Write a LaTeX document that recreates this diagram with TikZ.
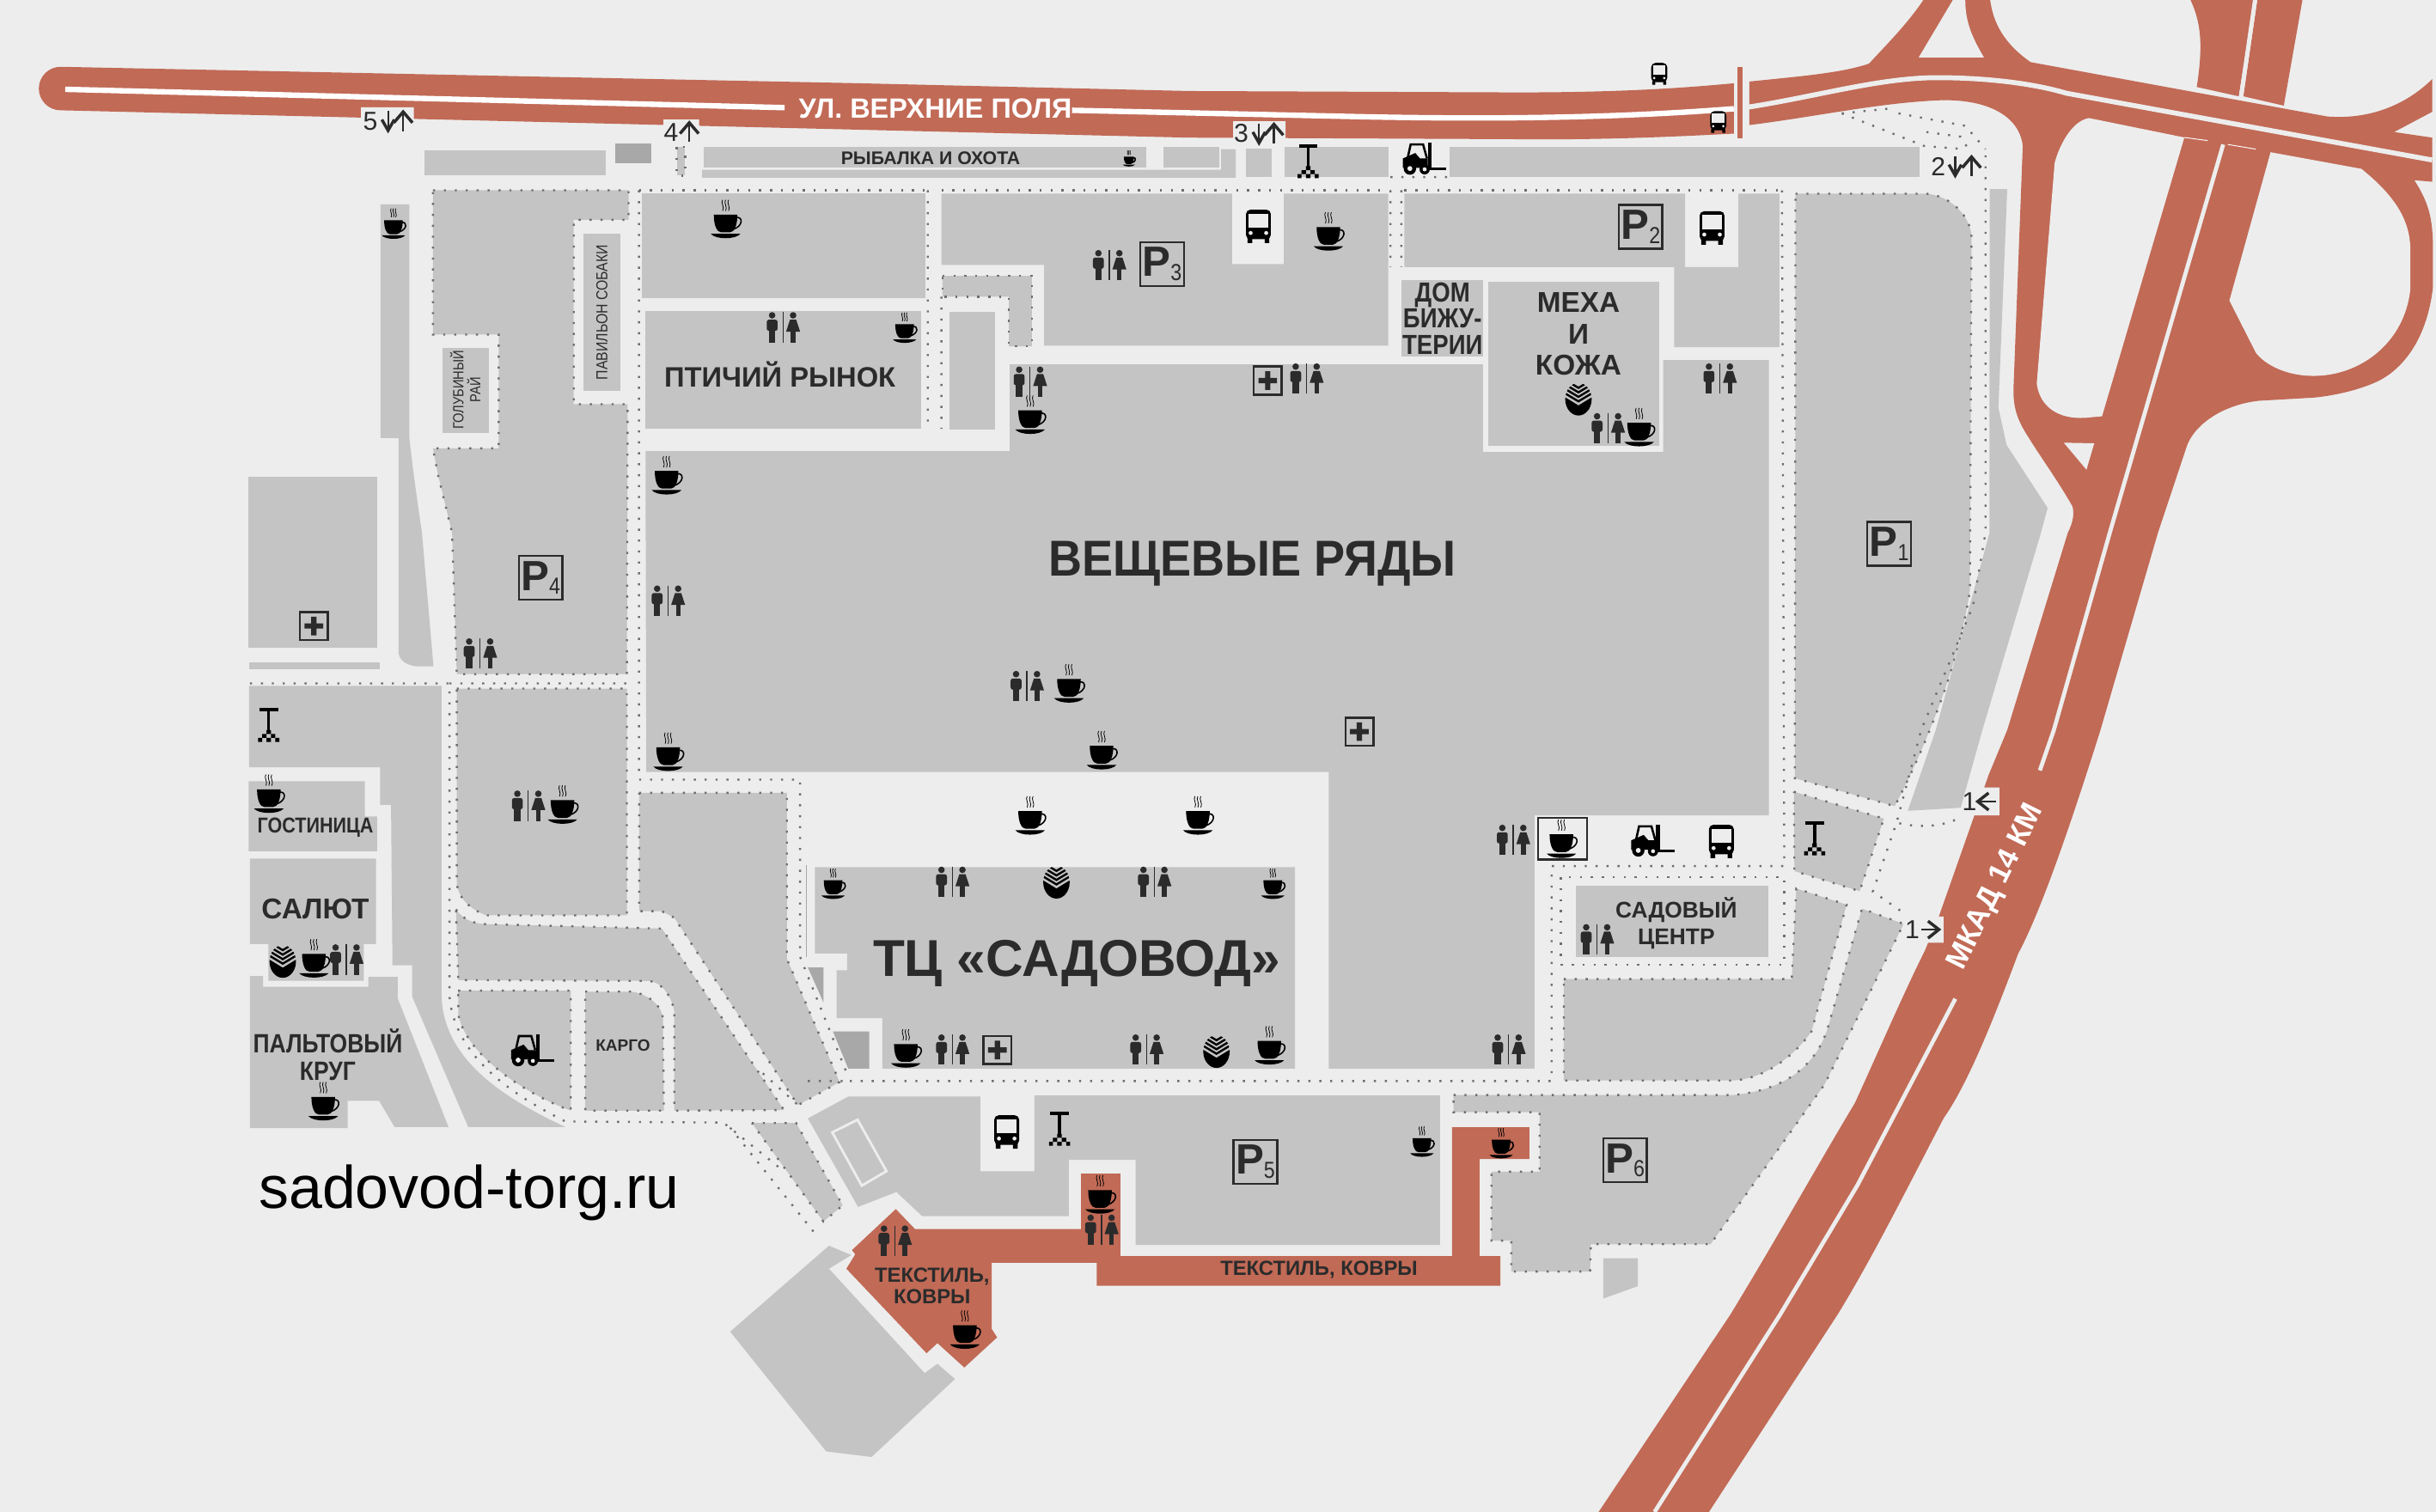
\documentclass[tikz,border=0pt]{standalone}
\usepackage{fontspec}
\setmainfont{Liberation Sans}
\newfontfamily\narrowf{Liberation Sans}[FakeStretch=0.86]
\newfontfamily\medf{Liberation Sans}[FakeStretch=0.92]
\usetikzlibrary{positioning}
\definecolor{paper}{HTML}{EDEDED}
\definecolor{blockgrey}{HTML}{C4C4C4}
\definecolor{darkgrey}{HTML}{A8A8A8}
\definecolor{roadred}{HTML}{C16A56}
\definecolor{ink}{HTML}{2B2B2B}
\definecolor{dotgrey}{HTML}{6E6E6E}
\newcommand{\fsz}[2]{\fontsize{#1}{#2}\selectfont}
\newcommand{\pmark}[1]{{\fsz{15.5}{15.5}\bfseries P}{\fsz{8.5}{8.5}\narrowf\raisebox{-1.5pt}{#1}}}
\tikzset{
  blk/.style={fill=blockgrey},
  dotline/.style={draw=dotgrey,line width=0.75pt,dash pattern=on 0.75pt off 3.25pt},
  dblk/.style={fill=blockgrey,dotline},
  road/.style={fill=roadred},
  hole/.style={fill=paper},
  lbl/.style={text=ink,inner sep=0pt,align=center},
  pbox/.style={draw=ink,line width=0.8pt,minimum size=16pt,inner sep=0pt,text=ink},
  num/.style={text=ink,inner sep=0pt,font=\fsz{9.5}{10}},
  arw/.style={draw=ink,line width=0.7pt},
  barb/.style={draw=ink,line width=1.1pt},
  cup/.pic={
    \fill[black] (-9,-3) -- (7,-3) .. controls (7,4) and (5,9) .. (2,9) -- (-4,9) .. controls (-7,9) and (-9,4) .. (-9,-3) -- cycle;
    \draw[black,line width=0.5pt] (6,-1) .. controls (11,-2) and (11,5) .. (4,7);
    \fill[black] (-11,10) .. controls (-8,14) and (6,14) .. (9,10) -- cycle;
    \foreach \s in {-3,-1,1} \draw[black,line width=0.25pt] (\s,-13) .. controls (\s-1.6,-11) and (\s+1.6,-8) .. (\s,-5.5);
  },
  wcpair/.pic={
    \fill[ink] (-7,-8) circle (2.1);
    \fill[ink,rounded corners=0.8pt] (-10.5,-5.2) rectangle (-3.5,2);
    \fill[ink] (-9,1) rectangle (-5,9.5);
    \draw[ink,line width=0.45pt] (0,-10) -- (0,9.5);
    \fill[ink] (6.5,-8) circle (2.1);
    \fill[ink] (4.5,-5.2) -- (8.5,-5.2) -- (11,2.5) -- (2,2.5) -- cycle;
    \fill[ink] (5,2) rectangle (8,9.5);
  },
  busicon/.pic={
    \fill[black,rounded corners=1.6pt] (-8,-10) rectangle (8,9);
    \fill[paper] (-6.2,-7.5) rectangle (6.2,1.5);
    \fill[paper] (-5,5) circle (1.3) (5,5) circle (1.3);
    \fill[black] (-7,8) rectangle (-4,11.5) (4,8) rectangle (7,11.5);
  },
  taxi/.pic={
    \fill[black] (-7,-13) rectangle (7,-10.5);
    \fill[black] (-1.1,-10.5) rectangle (1.1,4);
    \fill[black] (-1.7,3.5) rectangle (1.7,6.5) (-5,6.5) rectangle (-1.7,9.5) (1.7,6.5) rectangle (5,9.5);
    \fill[black] (-8,9.5) rectangle (-5,12.5) (-1.7,9.5) rectangle (1.7,12.5) (5,9.5) rectangle (8,12.5);
  },
  forklift/.pic={
    \draw[black,line width=0.8pt] (-11,0) -- (-9,-9) -- (-1,-9) -- (1.5,0);
    \fill[black] (-14,0) -- (-6,-3.5) -- (-3,0) -- (2,0) -- (2,6) -- (-14,6) -- cycle;
    \fill[black] (2,-10) rectangle (4.5,7.5);
    \fill[black] (4.5,6) rectangle (14,7.5);
    \fill[black] (-9.5,6.5) circle (4) (0,7) circle (3.3);
    \fill[paper] (-9.5,6.5) circle (1.6) (0,7) circle (1.3);
  },
  sber/.pic={
    \begin{scope}
      \clip (0,0) ellipse (8.5 and 10.5);
      \fill[black] (-9,-1.5) -- (0,4) -- (9,-1.5) -- (9,11) -- (-9,11) -- cycle;
      \foreach \s in {1.4,-1.5,-4.4,-7.3} \draw[black,line width=0.75pt] (-10,\s-6) -- (0,\s) -- (10,\s-6);
    \end{scope}
  },
  plusbox/.pic={
    \draw[ink,line width=0.8pt] (-9,-9) rectangle (9,9);
    \fill[ink] (-1.7,-6) rectangle (1.7,6) (-6,-1.7) rectangle (6,1.7);
  },
  arrdown/.pic={
    \draw[arw] (0,-6.5) -- (0,6);
    \draw[barb] (-4,-1) -- (0,6) -- (4,-1);
  },
  arrup/.pic={
    \draw[arw] (0,6.5) -- (0,-6);
    \draw[barb] (-6,1) -- (0,-6) -- (6,1);
  }
}
\begin{document}
\begin{tikzpicture}[x=0.02cm,y=-0.02cm]
\useasboundingbox (0,0) rectangle (1568,973.4);
\fill[paper] (0,0) rectangle (1568,973.4);

\fill[road] (39,43) -- (553,53.6) -- (765,58.6) -- (976,59.5) .. controls (1040,59.5) and (1080,57) .. (1116,53.6) -- (1116,86) .. controls (1060,89) and (1020,90) .. (976,89.6) -- (765,88.6) -- (553,83.5) -- (39,71) arc (90:270:14) -- cycle;
\fill[road] (1126,52.5) .. controls (1160,49) and (1185,47) .. (1203,41) .. controls (1215,28) and (1228,15) .. (1238,0) -- (1281,0) .. controls (1283,15) and (1290,28) .. (1307,40) -- (1498,75) .. controls (1525,77) and (1548,68) .. (1565.5,51) -- (1565.5,72) -- (1541,85) -- (1565.5,88.6) -- (1565.5,117) -- (1554,116) .. controls (1563,130) and (1566,140) .. (1566,160) -- (1566,185) .. controls (1562,220) and (1545,240) .. (1527,247) .. controls (1515,252) and (1500,255) .. (1489,256) -- (1454,258) .. controls (1435,260) and (1415,270) .. (1408,286) -- (1389,343) -- (1352,470) .. controls (1330,540) and (1312,590) .. (1299,614) .. controls (1280,665) and (1265,700) .. (1251,720) .. controls (1225,770) and (1205,810) .. (1183,846) -- (1100,973.4) -- (1029,973.4) -- (1114,846) .. controls (1145,795) and (1170,750) .. (1194,710) .. controls (1210,675) and (1225,640) .. (1239,612) -- (1248,590) -- (1280,499) -- (1292,470) -- (1331,343) .. controls (1335,335) and (1335,330) .. (1334,326) .. controls (1325,310) and (1312,292) .. (1306,282) .. controls (1298,270) and (1296,262) .. (1296,251) -- (1302,94) .. controls (1300,75) and (1280,64) .. (1250,64.5) .. controls (1210,66) and (1170,75) .. (1126,80.5) -- cycle;
\fill[road] (1410,0) .. controls (1417,15) and (1418,30) .. (1414,56) -- (1441,62) -- (1451,0) -- cycle;
\fill[road] (1453,0) -- (1444,62) -- (1470,68) -- (1482,0) -- cycle;
\fill[road] (1118.5,43) rectangle (1121.5,89);
\fill[hole] (1344.6,76) -- (1406,88.5) -- (1353,268) -- (1342,269) .. controls (1325,270) and (1313,262) .. (1311,247) -- (1322.5,105) .. controls (1325,95) and (1333,78) .. (1344.6,76) -- cycle;
\fill[hole] (1461.5,98) -- (1520,108.7) .. controls (1540,125) and (1551,140) .. (1551.5,160) -- (1551.5,186) .. controls (1548,220) and (1520,242) .. (1489,242) .. controls (1472,242) and (1458,235) .. (1452,227) -- (1435,193.5) -- cycle;
\fill[hole] (1328.4,285) -- (1348,285.4) -- (1343,302.4) -- cycle;
\fill[hole] (1257,0) -- (1265,0) .. controls (1265,15) and (1270,25) .. (1277,37) -- (1235,37) -- cycle;
\draw[white,line width=2pt] (42,57.5) -- (505,69.3) (690,71) -- (870,75) .. controls (960,77) and (1040,76) .. (1116,70);
\draw[paper,line width=1.8pt] (1125,69) .. controls (1170,62) and (1210,50) .. (1247,50) .. controls (1280,50) and (1310,54) .. (1330,60) -- (1565.5,103);
\draw[paper,line width=1.5pt] (1451.5,0) -- (1442.5,62) (1431,93) -- (1358,343) -- (1322,470) -- (1313,496) (1258.6,643) -- (1195.6,763) -- (1146,846) -- (1065,973.4);
\draw[white,line width=0.3pt] (1406,88.5) -- (1421,90.5) (1434,93) -- (1452,96);

\fill[blk] (273,97) rectangle (390,113);
\fill[darkgrey] (396,92.5) rectangle (419,105);
\fill[blk] (435.6,94.7) rectangle (441,113);
\draw[dotline] (435.6,94.7) rectangle (441,113);
\fill[blk] (453,94.5) rectangle (738,107.6);
\fill[blk] (452,109.3) -- (786,109.3) -- (786,96) -- (795.4,96) -- (795.4,114.4) -- (452,114.4) -- cycle;
\fill[blk] (749,94.5) rectangle (784.8,107.6);
\fill[blk] (802,95.5) rectangle (818.4,114);
\fill[blk] (826.8,94.5) rectangle (893.5,114);
\fill[blk] (933.3,94.7) rectangle (1235.8,114);

\fill[blk] (245,131.6) -- (263.5,131.6) -- (263.5,282) .. controls (266,305) and (269,325) .. (271.6,343) -- (279,429) -- (268,429) .. controls (261,428) and (257,425) .. (256.5,420) -- (256.5,282) -- (245,282) -- cycle;
\path[dblk] (278.7,122.5) -- (404.6,122.5) -- (404.6,141.5) -- (369.3,141.5) -- (369.3,260.2) -- (404,260.2) -- (403.5,434) -- (294,434) -- (291,343) -- (282,306) -- (278.7,288.6) -- (321,288.6) -- (321,215.4) -- (278.7,215.4) -- cycle;
\fill[blk] (375.7,150.2) rectangle (399.3,251.5);
\fill[blk] (284.7,224) rectangle (314.6,278.8);
\fill[blk] (413.4,124.7) rectangle (595.4,192);
\fill[blk] (415.5,200) rectangle (593,276);
\fill[blk] (611.3,200.5) rectangle (640.2,276.6);
\path[dblk] (606.7,177.6) -- (664.2,177.6) -- (664.2,223) -- (649.4,223) -- (649.4,191) -- (606.7,191) -- cycle;
\fill[blk] (606,124.7) -- (793,124.7) -- (793,170) -- (826.4,170) -- (826.4,124.7) -- (893.5,124.7) -- (893.5,222.6) -- (672,222.6) -- (672,170.6) -- (606,170.6) -- cycle;
\fill[blk] (904,124.7) -- (1084.7,124.7) -- (1084.7,172) -- (1118.9,172) -- (1118.9,124.7) -- (1145.4,124.7) -- (1145.4,223.5) -- (1077.6,223.5) -- (1077.6,172) -- (904,172) -- cycle;
\fill[blk] (902.3,180.4) rectangle (954.5,229.6);
\fill[blk] (957.7,181.5) rectangle (1068,287);
\fill[blk] (650,234.6) -- (954.5,234.6) -- (954.5,291) -- (1070.5,291) -- (1070.5,231.8) -- (1138.6,231.8) -- (1138.6,525) -- (987.7,525) -- (987.7,688) -- (855.3,688) -- (855.3,497) -- (416,497) -- (415.5,290.4) -- (650,290.4) -- cycle;

\path[dblk] (1155.7,124.7) -- (1240,124.7) .. controls (1256,126) and (1269,140) .. (1269,153) -- (1268,380) .. controls (1262,420) and (1245,470) .. (1219.6,519) -- (1155.3,501) -- cycle;
\fill[blk] (1280.7,121.8) -- (1292,121.8) -- (1286.3,262.4) -- (1291.6,286.5) -- (1318,327) -- (1313.7,343) -- (1276,470) -- (1262,520) -- (1228,522) -- (1246,470) -- (1280.6,343) -- cycle;
\path[dblk] (1154.7,509.7) -- (1212.6,527) -- (1197,573.7) -- (1155,560.8) -- cycle;
\fill[blk] (1014.2,570.4) rectangle (1138.4,616.4);
\draw[dotline] (1004.6,564.8) rectangle (1148.5,621);
\path[dblk] (1006.6,630.3) -- (1153.3,630.3) -- (1156.2,572) -- (1188.6,582.4) -- (1166,664) .. controls (1155,680) and (1135,695) .. (1115,695.6) -- (1006.6,695.6) -- cycle;
\path[dblk] (935.6,705) -- (1115,705) .. controls (1150,702) and (1170,685) .. (1177,660) -- (1198.5,585) -- (1225.3,594.8) -- (1174.5,698) -- (1101,801) -- (1024,801) -- (1023.5,818.6) -- (972.8,818.6) -- (972.8,798.7) -- (960,798.7) -- (960,754.3) -- (991,754.3) -- (991,716) -- (935.6,716) -- cycle;
\fill[blk] (1032,810) -- (1054.3,810) -- (1054.3,828) -- (1032,836) -- cycle;

\fill[blk] (546,706) -- (631,706) -- (631,754) -- (665.9,754) -- (665.9,705.2) -- (926.9,705.2) -- (926.9,801.5) -- (731,801.5) -- (731,746.7) -- (688,746.7) -- (688,783) -- (593.6,783) -- (577,767.4) -- (552.3,777) -- (520,720) -- cycle;
\draw[paper,line width=0.9pt] (535.7,729) -- (552,720.9) -- (570.6,754) -- (554.7,763.3) -- cycle;
\path[dblk] (484,723) -- (512.4,723) -- (542.4,776) -- (530,786.4) -- cycle;
\fill[blk] (470,857.3) -- (533.6,802) -- (548,808) -- (533.6,816.8) -- (595.2,884) -- (603.4,878) -- (614.7,887.8) -- (561,938) -- (531.8,934.4) -- cycle;
\fill[road] (576.6,778.4) -- (589,791.3) -- (695.9,791.3) -- (695.9,755.6) -- (721.2,755.6) -- (721.2,808.6) -- (934.6,808.6) -- (934.6,725.7) -- (984.4,725.7) -- (984.4,746.2) -- (952.3,746.2) -- (952.3,808.6) -- (965.7,808.6) -- (965.7,827.8) -- (706,827.8) -- (706,813) -- (638.3,813) -- (638.3,855.5) -- (641.8,861) -- (620.7,880.4) -- (603.4,864.7) -- (596.4,871.2) -- (544.8,816.8) -- (550.5,807.5) -- (548.4,804.8) -- cycle;

\fill[blk] (160,307) rectangle (243,417);
\fill[blk] (160.3,426.3) rectangle (244.4,430.6);
\fill[blk] (160.3,441.6) -- (284.2,441.6) -- (284.2,640.6) .. controls (285,680) and (320,705) .. (364,725.6) -- (301.4,725.6) -- (265.3,641.6) -- (265.3,621.5) -- (252.6,621.5) -- (251.7,518.2) -- (244.7,518.2) -- (244.7,494) -- (160.3,494) -- cycle;
\fill[blk] (160,503) -- (234.8,503) -- (234.8,525.6) -- (242.7,525.6) -- (242.7,548) -- (160,548) -- cycle;
\fill[blk] (160.9,552.7) -- (242.1,552.7) -- (242.1,607.7) -- (234.2,607.7) -- (234.2,631.4) -- (172.7,631.4) -- (172.7,607.7) -- (160.9,607.7) -- cycle;
\fill[blk] (160.9,628.3) -- (169.3,628.3) -- (169.3,635.3) -- (237,635.3) -- (237,628.9) -- (256,628.9) -- (256,642.7) -- (288.7,725.6) -- (254,725.6) -- (244,708.7) -- (223.8,708.7) -- (223.8,726.3) -- (160.9,726.3) -- cycle;
\path[dblk] (294,443.3) -- (403.5,443.3) -- (403.5,589.3) -- (313,589.3) .. controls (302,585) and (295,578) .. (294,568.6) -- cycle;
\path[dblk] (293.5,585.5) .. controls (298,592) and (305,595) .. (314.7,595) -- (426,597.8) -- (504.6,714.6) -- (434,715) -- (434,651) .. controls (432,640) and (425,632) .. (417.6,631.5) -- (295,631) -- cycle;
\path[dblk] (376.7,638.4) -- (406.4,638.4) .. controls (418,640) and (426,648) .. (426.7,655.4) -- (427.3,715) -- (376.7,715) -- cycle;
\path[dblk] (294.9,637.8) -- (367.4,637.8) -- (367.4,715) .. controls (340,705) and (300,680) .. (295,653) -- cycle;
\path[dblk] (411.4,510.4) -- (506.5,510.4) -- (506.5,617.3) -- (540.4,696.6) -- (513.6,711.5) -- (434,590.8) -- (426,586.6) -- (411.4,586.6) -- cycle;
\fill[darkgrey] (520,622.8) -- (530,622.8) -- (530,645.3) -- cycle;
\fill[darkgrey] (536.1,664) -- (559.5,664) -- (559.5,688) -- (546,688) -- cycle;
\fill[blk] (524.5,558.2) -- (833.6,558.2) -- (833.6,688) -- (568,688) -- (568,655.4) -- (538.5,655.4) -- (538.5,624.6) -- (545.2,624.6) -- (545.2,613.9) -- (524.5,613.9) -- cycle;
\draw[darkgrey,line width=0.4pt] (519,557) -- (519,616);

\draw[dotline] (411.3,122.5) -- (597,122.5) (606,122.5) -- (893,122.5) (904,122.5) -- (1146,122.5);
\draw[dotline] (411.3,122.5) -- (411.3,501.9) -- (515,501.9) -- (515,616) -- (544.7,690) (597.2,122.5) -- (597.2,276) (606,191) -- (606,276) (895,122.5) -- (895,172) (902,122.5) -- (902,172) (895,114) -- (933,114);
\draw[dotline] (547,696) -- (998.7,696) -- (998.7,557.6) -- (1148.5,557.6) -- (1147,122.5);
\draw[dotline] (1278,100) -- (1278,343) -- (1270,390) -- (1236.6,470) -- (1221,528.8) -- (1205.5,574) -- (1225,587.5) (1222.5,530) .. controls (1235,533) and (1250,532) .. (1259,527.6);
\draw[dotline] (1185.5,73) -- (1215,70) (1222,73) -- (1265,81) -- (1278,96) (1185.5,73) -- (1238.6,94) -- (1264,96) (1240,85) -- (1262,88) -- (1267,96);
\draw[dotline] (160.9,440) -- (289.3,440) -- (289.3,640.6) .. controls (292,680) and (330,705) .. (364,722) -- (465.6,722.7) -- (502,752) (289.3,440) -- (404,440);
\draw[dotline] (470,726) -- (526.5,796.5) (491,691) -- (514,711.7) (520,696) -- (547,696);

\fill[paper] (232.3,69) rectangle (266.4,85) (427,77) rectangle (450,90) (793.7,78) rectangle (827.5,92) (1271,507) rectangle (1287,525) (1225,590) rectangle (1251,607);

\foreach \px/\py in {468/141,430/306,664/267,856/149,1056/275,689/440,431/484,710/483,664/525,772/525,1006/540,363/518,174/511,203/617,209/709,584/675,818/673,709/769,622/856}
  \pic[scale=0.95] at (\px,\py) {cup};
\foreach \px/\py in {254/144,583/211,537/569,820/569,916/735,967/736}
  \pic[scale=0.75] at (\px,\py) {cup};
\pic[scale=0.4] at (727,102) {cup};
\foreach \px/\py in {714/171,504/211,663/246,841/244,1107/244,1035/276,430/387,309/421,661/442,340/519,974/541,613/568,743/568,1028/605,971/676,738/676,613/676,223/618,576/799,709/792}
  \pic at (\px,\py) {wcpair};
\foreach \px/\py in {810/145,1102/146,1108/541,648/728}
  \pic at (\px,\py) {busicon};
\foreach \px/\py in {1068/47,1106/78}
  \pic[scale=0.65] at (\px,\py) {busicon};
\foreach \px/\py in {842/104,173/467,1168/540,682/727}
  \pic[scale=0.85] at (\px,\py) {taxi};
\foreach \px/\py in {917/102,1064/541,343/676}
  \pic at (\px,\py) {forklift};
\foreach \px/\py in {816/245,202/403,875/471,642/676}
  \pic at (\px,\py) {plusbox};
\foreach \px/\py in {1016/257,680/568,783/677,182/619}
  \pic at (\px,\py) {sber};
\draw[ink,line width=0.8pt] (990,526.5) rectangle (1021.5,553.5);

\node[pbox] (pone) at (1216,350) {\pmark{1}};
\node[pbox] (ptwo) at (1056,146) {\pmark{2}};
\node[pbox] (pthree) at (748,170) {\pmark{3}};
\node[pbox] (pfour) at (348,372) {\pmark{4}};
\node[pbox] (pfive) at (808,748) {\pmark{5}};
\node[pbox] (psix) at (1046,747) {\pmark{6}};

\node[num] (exitfive) at (238.4,78) {5};
\pic at (249.8,78) {arrdown};
\pic at (259.5,78) {arrup};
\node[num] (exitfour) at (432,85) {4};
\pic at (443.7,85) {arrup};
\node[num] (exitthree) at (799,86) {3};
\pic at (810.4,86) {arrdown};
\pic at (820,86) {arrup};
\node[num] (exittwo) at (1247.6,107) {2};
\pic at (1258.5,107) {arrdown};
\pic at (1269,107) {arrup};
\node[num] (exitonein) at (1267.6,516) {1};
\draw[arw] (1285,516) -- (1273,516);
\draw[barb] (1280,510.5) -- (1273,516) -- (1280,521.5);
\node[num] (exitoneout) at (1230.9,598.4) {1};
\draw[arw] (1236.6,598.4) -- (1248,598.4);
\draw[barb] (1241,593) -- (1248,598.4) -- (1241,604);

\node[lbl,text=white,font=\fsz{10.2}{12}\bfseries] (street) at (602,70) {УЛ. ВЕРХНИЕ ПОЛЯ};
\node[lbl,text=white,rotate=63.5,font=\fsz{11}{12}\bfseries] (mkad) at (1285,571) {МКАД 14 КМ};
\node[lbl,font=\fsz{6.7}{8}\bfseries] (fishing) at (599,102) {РЫБАЛКА И ОХОТА};
\node[lbl,font=\fsz{10.3}{12}\bfseries] (birds) at (502,241) {ПТИЧИЙ РЫНОК};
\node[lbl,rotate=90,font=\fsz{5.8}{7}\narrowf] (dogs) at (387.5,201) {ПАВИЛЬОН СОБАКИ};
\node[lbl,rotate=90,font=\fsz{5.4}{6.2}\narrowf] (pigeons) at (299.5,251) {ГОЛУБИНЫЙ\\РАЙ};
\node[lbl,font=\fsz{18.5}{20}\medf\bfseries] (rows) at (806,363) {ВЕЩЕВЫЕ РЯДЫ};
\node[lbl,font=\fsz{10.1}{9.7}\narrowf\bfseries] (jewel) at (928.5,205) {ДОМ\\БИЖУ-\\ТЕРИИ};
\node[lbl,font=\fsz{10.5}{11.5}\bfseries] (fur) at (1016,215) {МЕХА\\И\\КОЖА};
\node[lbl,font=\fsz{19}{20}\bfseries] (mall) at (693,620) {ТЦ «САДОВОД»};
\node[lbl,font=\fsz{7.9}{8}\narrowf\bfseries] (hotel) at (203,533) {ГОСТИНИЦА};
\node[lbl,font=\fsz{10.5}{12}\bfseries] (salute) at (203,585) {САЛЮТ};
\node[lbl,font=\fsz{9.7}{9.8}\narrowf\bfseries] (coats) at (211,679) {ПАЛЬТОВЫЙ\\КРУГ};
\node[lbl,font=\fsz{6}{7}\bfseries] (cargo) at (401,673) {КАРГО};
\node[lbl,font=\fsz{8.3}{9.6}\bfseries] (garden) at (1079,594.5) {САДОВЫЙ\\ЦЕНТР};
\node[lbl,font=\fsz{7.5}{8}\bfseries] (textileeast) at (849,817.5) {ТЕКСТИЛЬ, КОВРЫ};
\node[lbl,font=\fsz{7.5}{8}\bfseries] (textilewest) at (600,828) {ТЕКСТИЛЬ,\\КОВРЫ};
\node[lbl,text=black,font=\fsz{22}{24}] (site) at (302,768) {sadovod-torg.ru};
\end{tikzpicture}
\end{document}
